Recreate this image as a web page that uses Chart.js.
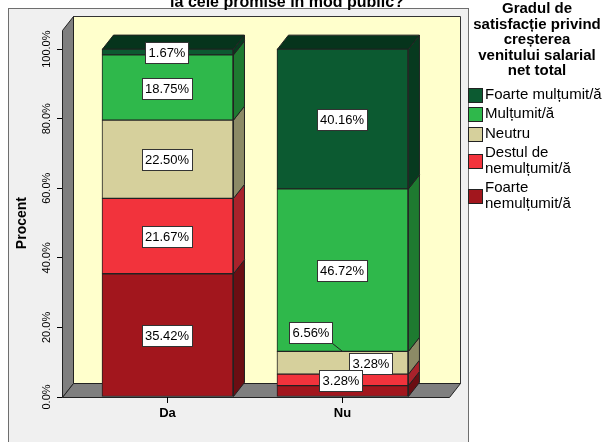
<!DOCTYPE html>
<html>
<head>
<meta charset="utf-8">
<script src="https://cdn.jsdelivr.net/npm/chart.js@4.4.0/dist/chart.umd.min.js"></script>
<style>
  html, body { margin: 0; padding: 0; background: #fff; }
  canvas { display: block; }
</style>
</head>
<body>
<canvas id="chart" width="606" height="442"></canvas>
<script>
// ===== Data =====
const categories = ['Da', 'Nu'];
const seriesNames = ['Foarte nemulțumit/ă', 'Destul de nemulțumit/ă', 'Neutru', 'Mulțumit/ă', 'Foarte mulțumit/ă'];
const foarteNemultumit = [35.42, 3.28];
const destulNemultumit = [21.67, 3.28];
const neutru = [22.50, 6.56];
const multumit = [18.75, 46.72];
const foarteMultumit = [1.67, 40.16];
const yTicks = [0, 20, 40, 60, 80, 100];

const titleText = 'la cele promise în mod public?';
const axisTitle = 'Procent';
const legendTitle = ['Gradul de', 'satisfacție privind', 'creșterea', 'venitului salarial', 'net total'];
const legendLabels = [['Foarte mulțumit/ă'], ['Mulțumit/ă'], ['Neutru'], ['Destul de', 'nemulțumit/ă'], ['Foarte', 'nemulțumit/ă']];

// ===== Styles =====
const FONT = '"Liberation Sans", Arial, sans-serif';
const front = ['#a2161d', '#f2333c', '#d6d09c', '#2fb84b', '#0c5a31'];
const side  = ['#6b0e13', '#a9222b', '#8c8a66', '#1e7a30', '#073a1f'];
const topFace = ['#6b0e13', '#a9222b', '#8c8a66', '#1e7a30', '#06341c'];
const depth = { dx: 11, dy: -14 };

// some labels are pushed aside so they do not collide (category-dataset)
const labelShift = {
  '1-0': { x: 28.5, y: -28 },
  '1-1': { x: -1, y: 0 },
  '1-2': { x: -31, y: -31, leader: true }
};

const seriesValues = [foarteNemultumit, destulNemultumit, neutru, multumit, foarteMultumit];

function poly(ctx, pts, fill, stroke) {
  ctx.beginPath();
  pts.forEach(([x, y], i) => i ? ctx.lineTo(x, y) : ctx.moveTo(x, y));
  ctx.closePath();
  ctx.fillStyle = fill;
  ctx.fill();
  ctx.strokeStyle = stroke || '#222';
  ctx.lineWidth = 1;
  ctx.stroke();
}

// ===== 3D box, walls, labels and legend =====
const chart3d = {
  id: 'chart3d',
  beforeDraw(chart) {
    const { ctx, chartArea: a } = chart;
    const { dx, dy } = depth;
    ctx.save();
    ctx.fillStyle = '#fff';
    ctx.fillRect(0, 0, chart.width, chart.height);
    // outer frame
    ctx.fillStyle = '#f0f0f0';
    ctx.fillRect(8, 8, 460, 450);
    ctx.strokeStyle = '#6e6e6e';
    ctx.strokeRect(8.5, 8.5, 460, 450);
    // chart title (runs off the top edge)
    ctx.fillStyle = '#000';
    ctx.font = 'bold 16px ' + FONT;
    ctx.textAlign = 'center';
    ctx.textBaseline = 'alphabetic';
    ctx.fillText(titleText, 287, 6.5);
    // back wall
    const L = a.left + 0.5, R = a.right + 0.5, T = a.top + 0.5, B = a.bottom + 0.5;
    poly(ctx, [[L + dx, T + dy], [R + dx, T + dy], [R + dx, B + dy], [L + dx, B + dy]], '#ffffcc', '#333');
    // left wall
    poly(ctx, [[L, B], [L, T], [L + dx, T + dy], [L + dx, B + dy]], '#7f7f7f', '#222');
    // floor
    poly(ctx, [[L, B], [R, B], [R + dx, B + dy], [L + dx, B + dy]], '#7f7f7f', '#222');
    ctx.restore();
  },
  beforeDatasetsDraw(chart) {
    const { ctx } = chart;
    const { dx, dy } = depth;
    ctx.save();
    categories.forEach((c, i) => {
      let topIdx = -1;
      chart.data.datasets.forEach((ds, di) => {
        const bar = chart.getDatasetMeta(di).data[i];
        const r = bar.x + bar.width / 2 + 0.5;
        poly(ctx, [[r, bar.y], [r + dx, bar.y + dy], [r + dx, bar.base + dy], [r, bar.base]], side[di]);
        if (ds.data[i].y > 0) topIdx = di;
      });
      const bar = chart.getDatasetMeta(topIdx).data[i];
      const l = bar.x - bar.width / 2 + 0.5, r = bar.x + bar.width / 2 + 0.5;
      poly(ctx, [[l, bar.y], [l + dx, bar.y + dy], [r + dx, bar.y + dy], [r, bar.y]], topFace[topIdx]);
    });
    ctx.restore();
  },
  afterDatasetsDraw(chart) {
    const { ctx } = chart;
    ctx.save();
    ctx.font = '13px ' + FONT;
    ctx.textAlign = 'center';
    ctx.textBaseline = 'middle';
    chart.data.datasets.forEach((ds, di) => {
      chart.getDatasetMeta(di).data.forEach((bar, i) => {
        const text = ds.data[i].y.toFixed(2) + '%';
        const shift = labelShift[i + '-' + di] || { x: 0, y: 0 };
        const cx = Math.round(bar.x + shift.x);
        const cy = Math.round((bar.y + bar.base) / 2 + shift.y);
        const w = Math.round(ctx.measureText(text).width) + 6, h = 21;
        const bx = cx - Math.round(w / 2) + 0.5, by = cy - 10 + 0.5;
        if (shift.leader) {
          ctx.beginPath();
          ctx.moveTo(bx + w, by + h);
          ctx.lineTo(bar.x, bar.y);
          ctx.strokeStyle = '#222';
          ctx.lineWidth = 1;
          ctx.stroke();
        }
        ctx.fillStyle = '#fff';
        ctx.fillRect(bx, by, w, h);
        ctx.strokeStyle = '#333';
        ctx.strokeRect(bx, by, w, h);
        ctx.fillStyle = '#000';
        ctx.fillText(text, cx, cy + 1);
      });
    });
    ctx.restore();
  },
  afterDraw(chart) {
    const { ctx } = chart;
    const yScale = chart.scales.y;
    ctx.save();
    ctx.fillStyle = '#000';
    ctx.textAlign = 'center';
    ctx.textBaseline = 'middle';
    // rotated y tick labels
    ctx.font = '11px ' + FONT;
    yTicks.forEach(v => {
      ctx.save();
      ctx.translate(47, yScale.getPixelForValue(v));
      ctx.rotate(-Math.PI / 2);
      ctx.fillText(v.toFixed(1) + '%', 0, 0);
      ctx.restore();
    });
    // axis title, centred on the 0-100 range
    const midY = (yScale.getPixelForValue(yTicks[0]) + yScale.getPixelForValue(yTicks[yTicks.length - 1])) / 2;
    ctx.save();
    ctx.translate(22, midY);
    ctx.rotate(-Math.PI / 2);
    ctx.font = 'bold 14px ' + FONT;
    ctx.fillText(axisTitle, 0, 0);
    ctx.restore();
    // legend title
    ctx.font = 'bold 15px ' + FONT;
    ctx.textBaseline = 'alphabetic';
    legendTitle.forEach((line, k) => ctx.fillText(line, 537, 13 + k * 15.5));
    // legend items, top series first
    ctx.font = '15px ' + FONT;
    ctx.textAlign = 'left';
    let y = 87;
    for (let di = seriesNames.length - 1; di >= 0; di--) {
      const lines = legendLabels[seriesNames.length - 1 - di];
      const hgt = lines.length * 15.5;
      const mid = y + hgt / 2;
      ctx.fillStyle = front[di];
      ctx.fillRect(468.5, Math.round(mid - 7) + 0.5, 14, 14);
      ctx.strokeStyle = '#222';
      ctx.strokeRect(468.5, Math.round(mid - 7) + 0.5, 14, 14);
      ctx.fillStyle = '#000';
      ctx.textBaseline = 'middle';
      lines.forEach((t, k) => ctx.fillText(t, 485, y + 7.75 + k * 15.5));
      y += hgt + 4;
    }
    ctx.restore();
  }
};

// ===== Chart.js - stacked percent bars =====
const ctx = document.getElementById('chart').getContext('2d');
new Chart(ctx, {
  type: 'bar',
  data: {
    datasets: seriesNames.map((name, di) => ({
      label: name,
      data: seriesValues[di].map((v, i) => ({ x: i + 1, y: v })),
      backgroundColor: front[di],
      borderColor: '#222',
      borderWidth: 1,
      borderSkipped: false,
      barThickness: 131
    }))
  },
  options: {
    responsive: false,
    animation: false,
    layout: { padding: { left: 0, top: 30, right: 157, bottom: 0 } },
    plugins: {
      legend: { display: false },
      tooltip: { enabled: false }
    },
    scales: {
      x: {
        type: 'linear',
        stacked: true,
        offset: false,
        bounds: 'data',
        min: 0.397,
        max: 2.609,
        afterFit(s) { s.height = 45; },
        afterBuildTicks(s) { s.ticks = categories.map((c, i) => ({ value: i + 1 })); },
        ticks: {
          callback: v => categories[v - 1] || '',
          color: '#000',
          font: { family: FONT, size: 13, weight: 'bold' },
          padding: 3,
          maxRotation: 0,
          autoSkip: false
        },
        grid: { offset: false, drawOnChartArea: false, tickLength: 6, color: '#000' },
        border: { display: false }
      },
      y: {
        stacked: true,
        min: 0,
        max: 105.5,
        afterFit(s) { s.width = 62; },
        afterBuildTicks(s) { s.ticks = yTicks.map(v => ({ value: v })); },
        ticks: { display: false },
        grid: { drawOnChartArea: false, tickLength: 5, color: '#000' },
        border: { display: false }
      }
    }
  },
  plugins: [chart3d]
});
</script>
</body>
</html>
